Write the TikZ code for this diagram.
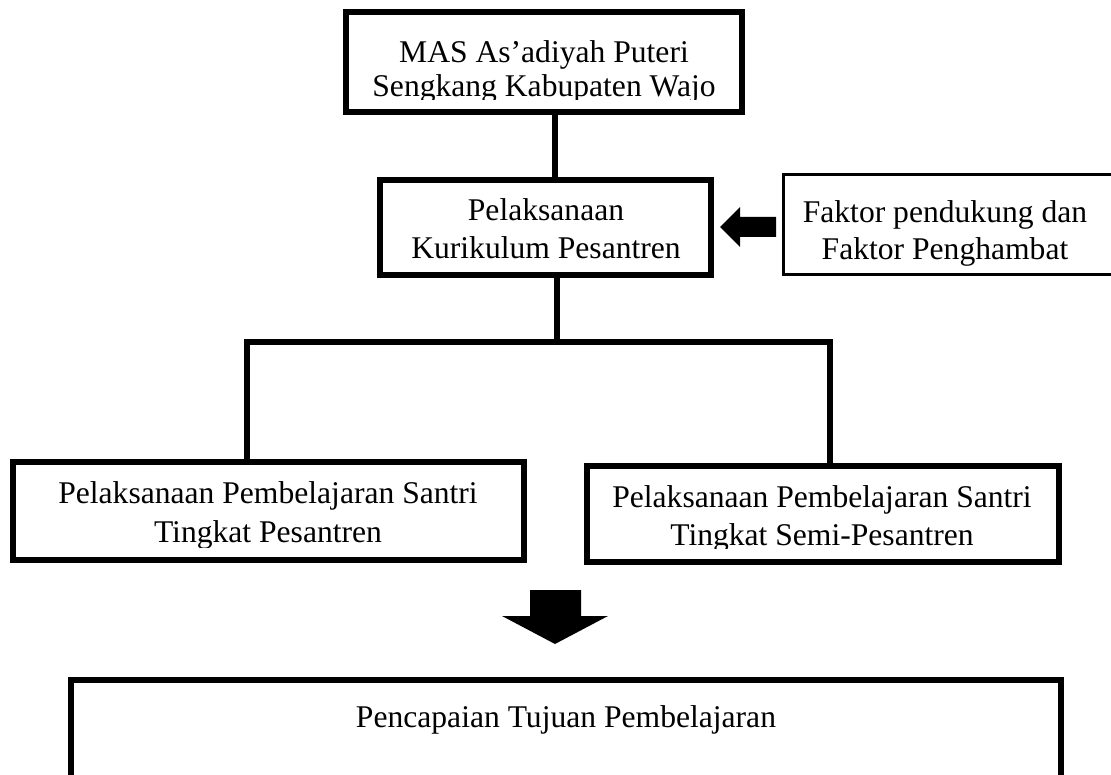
\documentclass[tikz,border=0pt]{standalone}
\usepackage{fontspec}
\setmainfont{Liberation Serif}
\begin{document}
\begin{tikzpicture}[x=1pt,y=-1pt,
  box/.style={draw=black,line width=6pt,rectangle,inner sep=0pt,outer sep=0pt},
  thinbox/.style={draw=black,line width=3pt,rectangle,inner sep=0pt,outer sep=0pt},
  lbl/.style={anchor=base,inner sep=0pt,font=\fontsize{31.6}{38}\selectfont},
  conn/.style={draw=black,line width=6pt},
  blockarrow/.style={fill=black}]
\useasboundingbox (0,0) rectangle (1111,775);
\fill[white] (0,0) rectangle (1111,775);
% boxes
\node[box,minimum width=396pt,minimum height=100pt] (top) at (544,62) {};
\node[box,minimum width=331pt,minimum height=95pt] (mid) at (545.5,227.5) {};
\node[thinbox,minimum width=337pt,minimum height=100.5pt] (fak) at (952,224.75) {};
\node[box,minimum width=511pt,minimum height=98pt] (lft) at (268.5,511) {};
\node[box,minimum width=472pt,minimum height=96pt] (rgt) at (823,514) {};
\node[box,minimum width=990pt,minimum height=110pt] (bot) at (566,735) {};
% texts
\node[lbl] (t1a) at (544,63) {MAS As’adiyah Puteri};
\begin{scope}
\clip (0,0) rectangle (1111,100);
\node[lbl] (t1b) at (544,97) {Sengkang Kabupaten Wajo};
\end{scope}
\node[lbl] (t2a) at (546,221) {Pelaksanaan};
\node[lbl] (t2b) at (546,259) {Kurikulum Pesantren};
\node[lbl] (t3a) at (945,223) {Faktor pendukung dan};
\node[lbl] (t3b) at (945,260) {Faktor Penghambat};
\node[lbl] (t4a) at (268,503) {Pelaksanaan Pembelajaran Santri};
\begin{scope}
\clip (0,0) rectangle (1111,547);
\node[lbl] (t4b) at (268,542) {Tingkat Pesantren};
\end{scope}
\node[lbl] (t5a) at (822,507) {Pelaksanaan Pembelajaran Santri};
\begin{scope}
\clip (0,0) rectangle (1111,548);
\node[lbl] (t5b) at (822,545) {Tingkat Semi-Pesantren};
\end{scope}
\node[lbl] (t6) at (566,727) {Pencapaian Tujuan Pembelajaran};
% connectors
\coordinate (c1) at (555,0);
\coordinate (c2) at (557,342);
\coordinate (hl) at (247,342);
\coordinate (hr) at (830,342);
\draw[conn] (c1 |- top.south) -- (c1 |- mid.north);
\draw[conn] (c2 |- mid.south) -- (c2);
\draw[conn] (hl |- lft.north) -- (hl) -- (hr) -- (hr |- rgt.north);
% block arrows
\fill[blockarrow] (720,227) -- (740,207) -- (740,217) -- (776,217) -- (776,237) -- (740,237) -- (740,247) -- cycle;
\fill[blockarrow] (530,590) -- (581,590) -- (581,616) -- (608,616) -- (555,644) -- (502,616) -- (530,616) -- cycle;
\end{tikzpicture}
\end{document}
